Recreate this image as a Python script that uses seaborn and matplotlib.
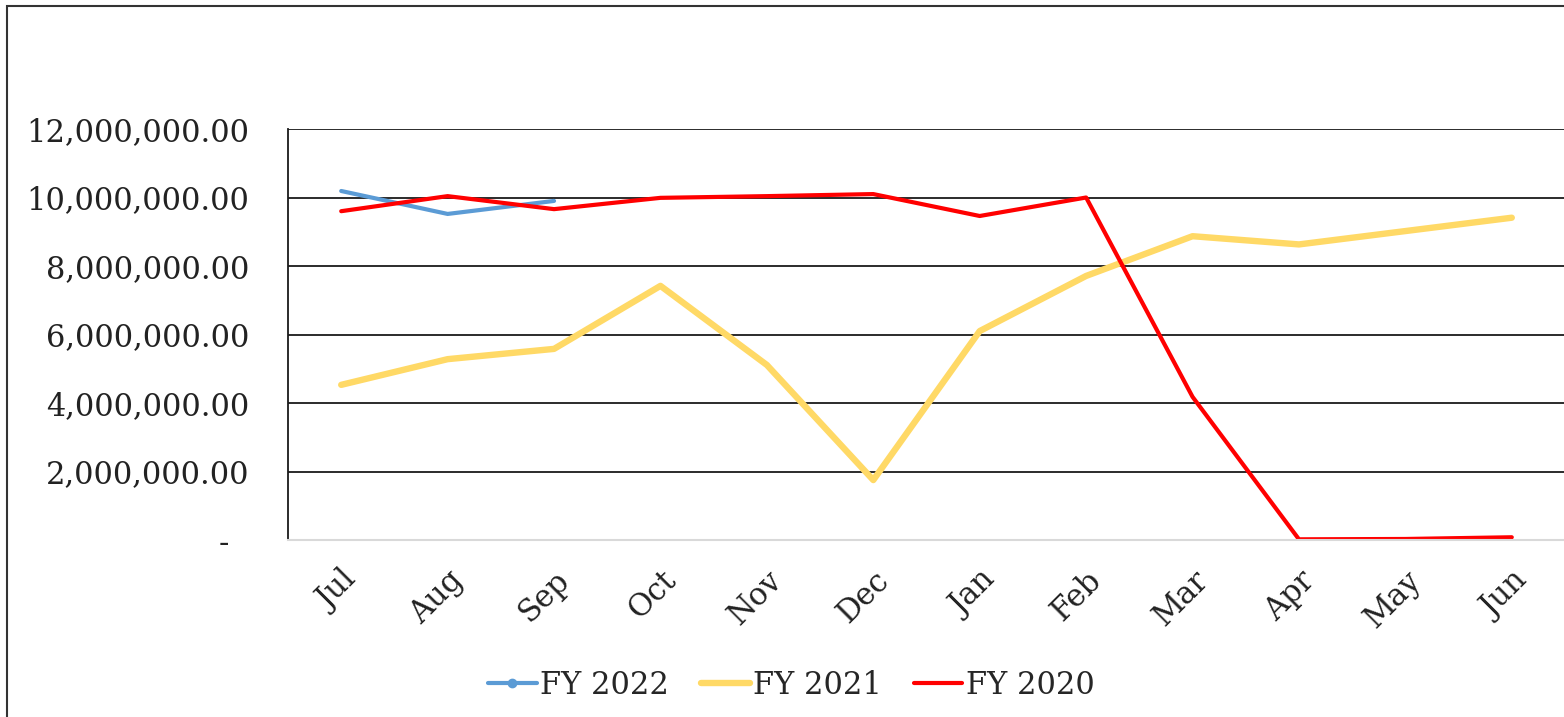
import pandas as pd
import matplotlib.pyplot as plt
import matplotlib.patches as mpatches
from matplotlib.ticker import FuncFormatter
import seaborn as sns

# -----------------------------
# Dados
# -----------------------------
months = ['Jul', 'Aug', 'Sep', 'Oct', 'Nov', 'Dec', 'Jan', 'Feb', 'Mar', 'Apr', 'May', 'Jun']
fy2022 = [10190000, 9520000, 9900000]
fy2021 = [4530000, 5280000, 5580000, 7420000, 5110000, 1750000, 6100000, 7710000,
          8870000, 8630000, 9020000, 9410000]
fy2020 = [9600000, 10040000, 9660000, 9990000, 10040000, 10100000, 9460000, 10000000,
          4180000, 20000, 30000, 80000]

series = {'FY 2022': fy2022, 'FY 2021': fy2021, 'FY 2020': fy2020}
colors = {'FY 2022': '#5B9BD5', 'FY 2021': '#FFD966', 'FY 2020': '#FF0000'}
widths = {'FY 2022': 3.0, 'FY 2021': 4.6, 'FY 2020': 3.0}

rows = []
for name, vals in series.items():
    for i, v in enumerate(vals):
        rows.append({'month': i, 'value': v, 'series': name})
df = pd.DataFrame(rows)

# -----------------------------
# Plot
# -----------------------------
sns.set_theme(style='white')
plt.rcParams['font.family'] = ['DejaVu Serif']

fig = plt.figure(figsize=(15.64, 7.17), dpi=100)
ax = fig.add_axes([288 / 1564, 1 - 540 / 717, 1277 / 1564, 411 / 717])

for name in ['FY 2022', 'FY 2021', 'FY 2020']:
    sub = df[df['series'] == name]
    sns.lineplot(data=sub, x='month', y='value', ax=ax, color=colors[name],
                 linewidth=widths[name], label=name, sort=False,
                 solid_capstyle='round', solid_joinstyle='round')

ax.set_xlim(-0.5, 11.5)
ax.set_ylim(0, 12000000)
ax.set_yticks(range(0, 12000001, 2000000))
ax.yaxis.set_major_formatter(FuncFormatter(
    lambda v, p: '-\u2007' if v == 0 else f'{v:,.2f}'))
ax.set_xticks(range(len(months)))
ax.set_xticklabels(months, rotation=45, ha='right', rotation_mode='anchor')
ax.tick_params(axis='y', length=0, pad=28, labelsize=22, colors='#222222')
ax.tick_params(axis='x', length=0, pad=18, labelsize=22, colors='#222222')
ax.set_xlabel('')
ax.set_ylabel('')

ax.yaxis.grid(True, color='#1a1a1a', linewidth=1.3)
ax.set_axisbelow(True)
for s in ['top', 'right']:
    ax.spines[s].set_visible(False)
ax.spines['left'].set_color('#1a1a1a')
ax.spines['left'].set_linewidth(1.3)
ax.spines['bottom'].set_color('#D9D9D9')
ax.spines['bottom'].set_linewidth(1.5)

# legenda
handles = [
    plt.Line2D([], [], color=colors['FY 2022'], linewidth=3.0, marker='o', markersize=6),
    plt.Line2D([], [], color=colors['FY 2021'], linewidth=4.6, solid_capstyle='round'),
    plt.Line2D([], [], color=colors['FY 2020'], linewidth=3.0, solid_capstyle='round'),
]
ax.legend(handles, list(series.keys()), loc='center', bbox_to_anchor=(791 / 1564, 1 - 685 / 717),
          bbox_transform=fig.transFigure, ncol=3, frameon=False, fontsize=22,
          handlelength=1.6, handletextpad=0.1, columnspacing=1.05)

# moldura
fig.patches.append(mpatches.Rectangle((7 / 1564, -0.1), 1.2, 1 - 6 / 717 + 0.1,
                                      transform=fig.transFigure, fill=False,
                                      edgecolor='#333333', linewidth=1.5))

fig.savefig('out.png', dpi=100)
